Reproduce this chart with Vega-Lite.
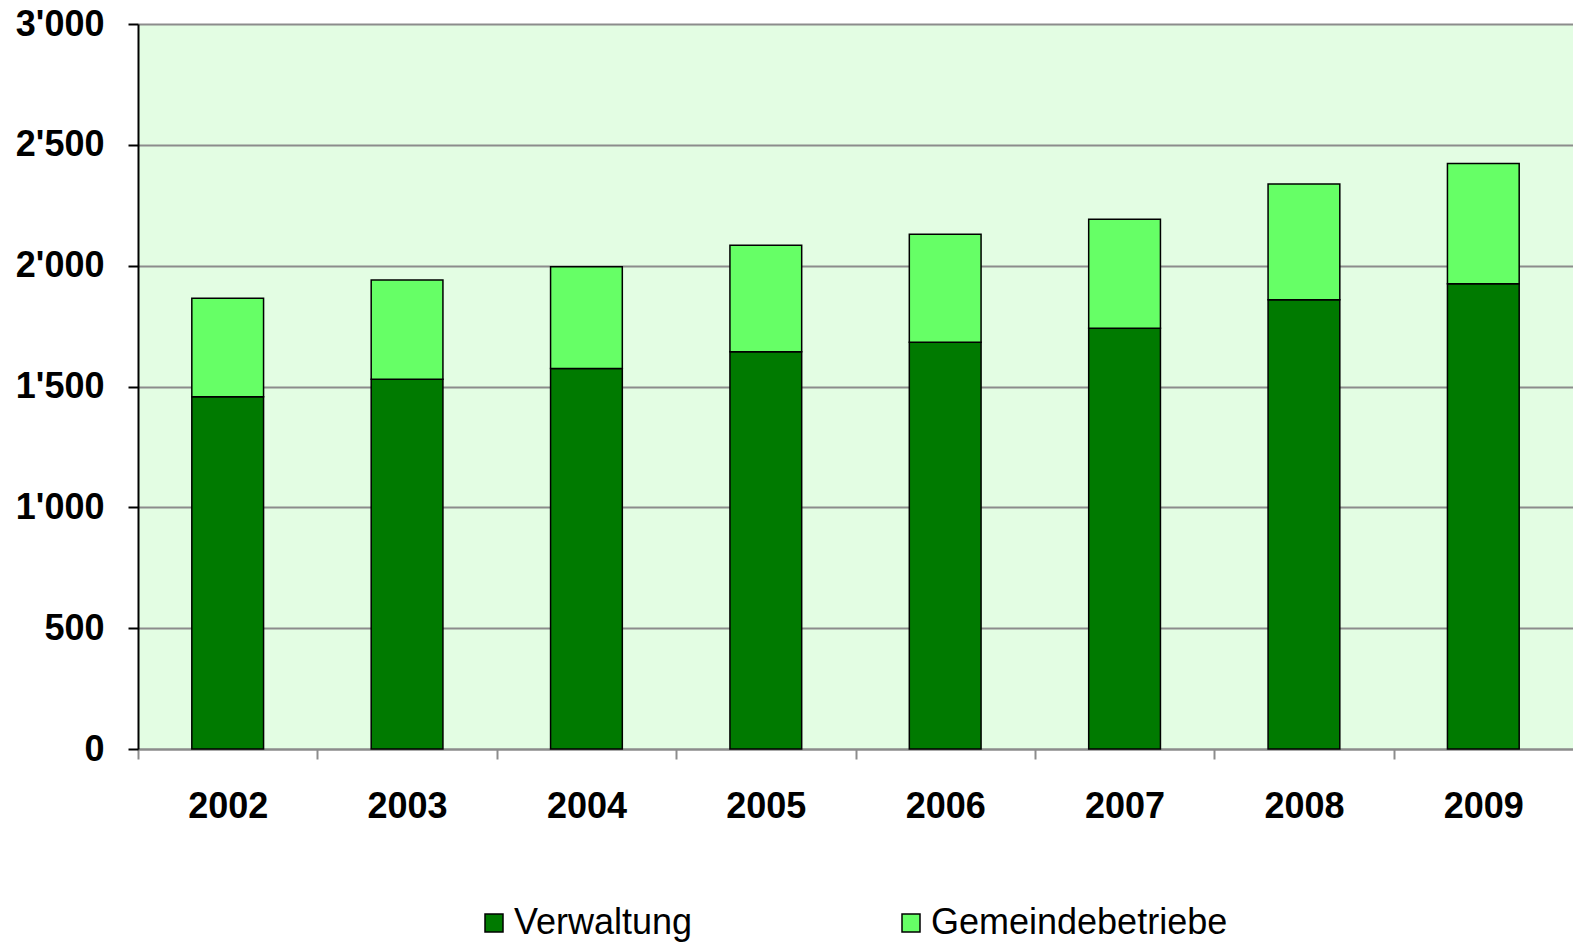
{
  "$schema": "https://vega.github.io/schema/vega-lite/v6.json",
  "width": 1435,
  "height": 725,
  "autosize": {"type": "none"},
  "padding": {"left": 138, "top": 24, "right": 0, "bottom": 194},
  "background": "#ffffff",
  "data": {
    "values": [
      {"Jahr": "2002", "Kategorie": "Verwaltung", "Anzahl": 1458},
      {"Jahr": "2002", "Kategorie": "Gemeindebetriebe", "Anzahl": 407},
      {"Jahr": "2003", "Kategorie": "Verwaltung", "Anzahl": 1530},
      {"Jahr": "2003", "Kategorie": "Gemeindebetriebe", "Anzahl": 411},
      {"Jahr": "2004", "Kategorie": "Verwaltung", "Anzahl": 1575},
      {"Jahr": "2004", "Kategorie": "Gemeindebetriebe", "Anzahl": 421},
      {"Jahr": "2005", "Kategorie": "Verwaltung", "Anzahl": 1644},
      {"Jahr": "2005", "Kategorie": "Gemeindebetriebe", "Anzahl": 441},
      {"Jahr": "2006", "Kategorie": "Verwaltung", "Anzahl": 1683},
      {"Jahr": "2006", "Kategorie": "Gemeindebetriebe", "Anzahl": 447},
      {"Jahr": "2007", "Kategorie": "Verwaltung", "Anzahl": 1741},
      {"Jahr": "2007", "Kategorie": "Gemeindebetriebe", "Anzahl": 451},
      {"Jahr": "2008", "Kategorie": "Verwaltung", "Anzahl": 1859},
      {"Jahr": "2008", "Kategorie": "Gemeindebetriebe", "Anzahl": 479},
      {"Jahr": "2009", "Kategorie": "Verwaltung", "Anzahl": 1925},
      {"Jahr": "2009", "Kategorie": "Gemeindebetriebe", "Anzahl": 498}
    ]
  },
  "mark": {"type": "bar", "stroke": "#000000", "strokeWidth": 1.5},
  "encoding": {
    "x": {
      "field": "Jahr",
      "type": "ordinal",
      "scale": {"paddingInner": 0.6, "paddingOuter": 0.3},
      "axis": {
        "title": null,
        "labelAngle": 0,
        "labelFont": "Liberation Sans",
        "labelFontSize": 36,
        "labelFontWeight": "bold",
        "labelColor": "#000000",
        "labelPadding": 30,
        "tickOffset": -89.6875,
        "labelOffset": 89.6875,
        "tickSize": 10,
        "tickColor": "#8c8c8c",
        "tickWidth": 2,
        "domainColor": "#8c8c8c",
        "domainWidth": 2
      }
    },
    "y": {
      "field": "Anzahl",
      "type": "quantitative",
      "stack": "zero",
      "scale": {"domain": [0, 3000], "nice": false},
      "axis": {
        "title": null,
        "values": [0, 500, 1000, 1500, 2000, 2500, 3000],
        "format": ",d",
        "labelFont": "Liberation Sans",
        "labelFontSize": 36,
        "labelFontWeight": "bold",
        "labelColor": "#000000",
        "labelPadding": 24,
        "tickSize": 10,
        "tickColor": "#000000",
        "tickWidth": 2,
        "domainColor": "#000000",
        "domainWidth": 2,
        "grid": true,
        "gridColor": "#8c8c8c",
        "gridWidth": 2
      }
    },
    "color": {
      "field": "Kategorie",
      "type": "nominal",
      "scale": {"domain": ["Verwaltung", "Gemeindebetriebe"], "range": ["#007a00", "#66ff66"]},
      "legend": {
        "title": null,
        "orient": "none",
        "legendX": 338,
        "legendY": 881,
        "direction": "horizontal",
        "columns": 2,
        "columnPadding": 200,
        "symbolType": "square",
        "symbolSize": 324,
        "symbolStrokeColor": "#000000",
        "symbolStrokeWidth": 1.5,
        "labelFont": "Liberation Sans",
        "labelFontSize": 36,
        "labelColor": "#000000",
        "labelOffset": 2,
        "labelLimit": 500
      }
    },
    "order": {"field": "Kategorie", "sort": "descending"}
  },
  "config": {
    "locale": {"number": {"decimal": ".", "thousands": "'", "grouping": [3], "currency": ["", ""]}},
    "view": {"stroke": null, "fill": "#e3fde3"}
  }
}
